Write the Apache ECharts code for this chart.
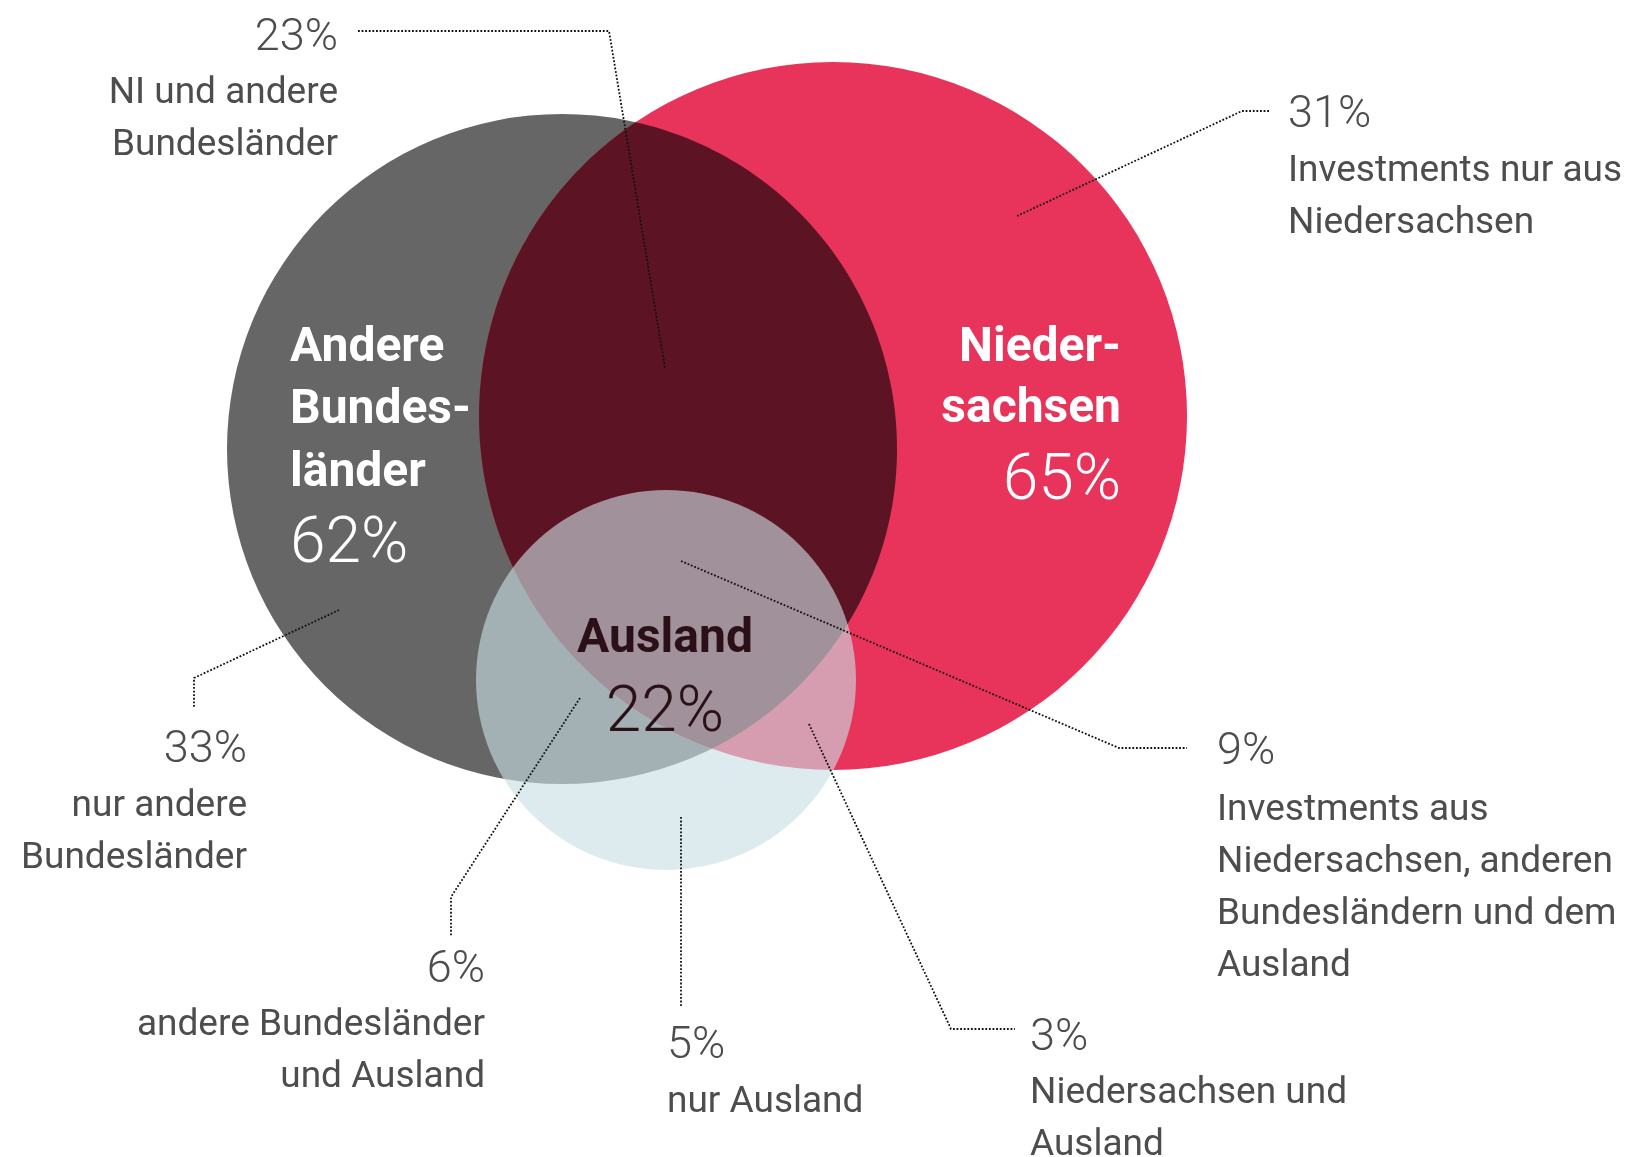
<!DOCTYPE html>
<html>
<head>
<meta charset="utf-8">
<script src="https://cdn.jsdelivr.net/npm/echarts@6/dist/echarts.min.js"></script>
<style>
html,body{margin:0;padding:0;background:#fff;}
#chart{width:1629px;height:1157px;}
</style>
</head>
<body>
<div id="chart"></div>
<script>
// ---------- DATA ----------
const setTitles = ['Andere\nBundes-\nländer', 'Nieder-\nsachsen', 'Ausland'];
const setShares = [62, 65, 22];
const regionShares = [23, 31, 33, 9, 6, 5, 3];
const regionLabels = [
  'NI und andere\nBundesländer',
  'Investments nur aus\nNiedersachsen',
  'nur andere\nBundesländer',
  'Investments aus\nNiedersachsen, anderen\nBundesländern und dem\nAusland',
  'andere Bundesländer\nund Ausland',
  'nur Ausland',
  'Niedersachsen und\nAusland'
];

// ---------- LAYOUT (pixel space of the hidden axes) ----------
const circleLayout = [
  {cx: 562, cy: 449, r: 335, fill: '#666666'},
  {cx: 833, cy: 416, r: 354, fill: '#e8345a'},
  {cx: 666, cy: 680, r: 190, fill: 'rgba(202,222,228,0.62)'}
];
const lensFill = '#5c1424';   // overlap of circle 0 and circle 1
const setLabelLayout = [
  {x: 290, align: 'left',  titleY: [344, 406, 469], pctY: 541, color: '#ffffff'},
  {x: 1121, align: 'right', titleY: [344, 405], pctY: 478, color: '#ffffff'},
  {x: 665, align: 'center', titleY: [635], pctY: 710, color: '#2b1117'}
];
const regionLayout = [
  {x: 338,  align: 'right', pctY: 34,  descY: 89,  leader: [[358,31],[609,31],[665,368]]},
  {x: 1288, align: 'left',  pctY: 111, descY: 167, leader: [[1269,111],[1242,111],[1017,216]]},
  {x: 247,  align: 'right', pctY: 746, descY: 802, leader: [[339,610],[194,678],[194,708]]},
  {x: 1217, align: 'left',  pctY: 748, descY: 806, leader: [[681,561],[1119,748],[1187,748]]},
  {x: 485,  align: 'right', pctY: 966, descY: 1021, leader: [[580,698],[451,897],[451,937]]},
  {x: 667,  align: 'left',  pctY: 1042, descY: 1098, leader: [[681,817],[681,1006]]},
  {x: 1030, align: 'left',  pctY: 1034, descY: 1089, leader: [[809,724],[951,1029],[1015,1029]]}
];
const FONT = 'Roboto, "Noto Sans", sans-serif';
const LINE_H = 52;
const TY = 5; // visual baseline correction for middle-aligned text

function lensPoints(A, B, api) {
  const ca = api.coord([A.cx, A.cy]), cb = api.coord([B.cx, B.cy]);
  const ra = api.size([A.r, 0])[0], rb = api.size([B.r, 0])[0];
  const dx = cb[0] - ca[0], dy = cb[1] - ca[1];
  const d = Math.sqrt(dx * dx + dy * dy);
  const a = (d * d + ra * ra - rb * rb) / (2 * d);
  const alpha = Math.acos(a / ra);
  const beta = Math.acos((d - a) / rb);
  const tAB = Math.atan2(dy, dx), tBA = tAB + Math.PI;
  const pts = [];
  const N = 120;
  for (let k = 0; k <= N; k++) {
    const t = tAB - alpha + 2 * alpha * k / N;
    pts.push([ca[0] + ra * Math.cos(t), ca[1] + ra * Math.sin(t)]);
  }
  for (let k = 0; k <= N; k++) {
    const t = tBA - beta + 2 * beta * k / N;
    pts.push([cb[0] + rb * Math.cos(t), cb[1] + rb * Math.sin(t)]);
  }
  return pts;
}

const chart = echarts.init(document.getElementById('chart'), null, {renderer: 'canvas'});

const option = {
  backgroundColor: '#ffffff',
  animation: false,
  grid: {left: 0, right: 0, top: 0, bottom: 0},
  xAxis: {type: 'value', min: 0, max: 1629, show: false},
  yAxis: {type: 'value', min: 0, max: 1157, inverse: true, show: false},
  series: [
    {
      type: 'custom',
      name: 'circles',
      clip: false,
      data: setShares.map(v => [v]),
      renderItem: function (params, api) {
        const i = params.dataIndex;
        const L = circleLayout[i];
        const c = api.coord([L.cx, L.cy]);
        const r = api.size([L.r, 0])[0];
        const children = [{
          type: 'circle',
          shape: {cx: c[0], cy: c[1], r: r},
          style: {fill: L.fill}
        }];
        if (i === 1) {
          children.push({
            type: 'polygon',
            shape: {points: lensPoints(circleLayout[0], circleLayout[1], api)},
            style: {fill: lensFill}
          });
        }
        return {type: 'group', children: children};
      }
    },
    {
      type: 'custom',
      name: 'leaders',
      clip: false,
      z: 3,
      data: regionShares.map(v => [v]),
      renderItem: function (params, api) {
        const L = regionLayout[params.dataIndex];
        return {
          type: 'polyline',
          shape: {points: L.leader.map(p => api.coord(p))},
          style: {stroke: '#111111', lineWidth: 1.8, lineDash: [1.8, 1.8], fill: null}
        };
      }
    },
    {
      type: 'custom',
      name: 'regionLabels',
      clip: false,
      z: 4,
      data: regionShares.map(v => [v]),
      renderItem: function (params, api) {
        const i = params.dataIndex;
        const L = regionLayout[i];
        const children = [];
        const p = api.coord([L.x, L.pctY + TY]);
        children.push({
          type: 'text',
          style: {
            text: regionShares[i] + '%', x: p[0], y: p[1],
            align: L.align, verticalAlign: 'middle',
            fill: '#4d4d4d', font: '300 45px ' + FONT
          }
        });
        regionLabels[i].split('\n').forEach(function (line, k) {
          const q = api.coord([L.x, L.descY + k * LINE_H + TY]);
          children.push({
            type: 'text',
            style: {
              text: line, x: q[0], y: q[1],
              align: L.align, verticalAlign: 'middle',
              fill: '#4d4d4d', font: '400 37px ' + FONT
            }
          });
        });
        return {type: 'group', children: children};
      }
    },
    {
      type: 'custom',
      name: 'setLabels',
      clip: false,
      z: 5,
      data: setShares.map(v => [v]),
      renderItem: function (params, api) {
        const i = params.dataIndex;
        const L = setLabelLayout[i];
        const children = [];
        setTitles[i].split('\n').forEach(function (line, k) {
          const q = api.coord([L.x, L.titleY[k] + TY]);
          children.push({
            type: 'text',
            style: {
              text: line, x: q[0], y: q[1],
              align: L.align, verticalAlign: 'middle',
              fill: L.color, font: '700 48px ' + FONT
            }
          });
        });
        const p = api.coord([L.x, L.pctY + TY]);
        children.push({
          type: 'text',
          style: {
            text: setShares[i] + '%', x: p[0], y: p[1],
            align: L.align, verticalAlign: 'middle',
            fill: L.color, font: '300 64px ' + FONT
          }
        });
        return {type: 'group', children: children};
      }
    }
  ]
};
chart.setOption(option);
</script>
</body>
</html>
